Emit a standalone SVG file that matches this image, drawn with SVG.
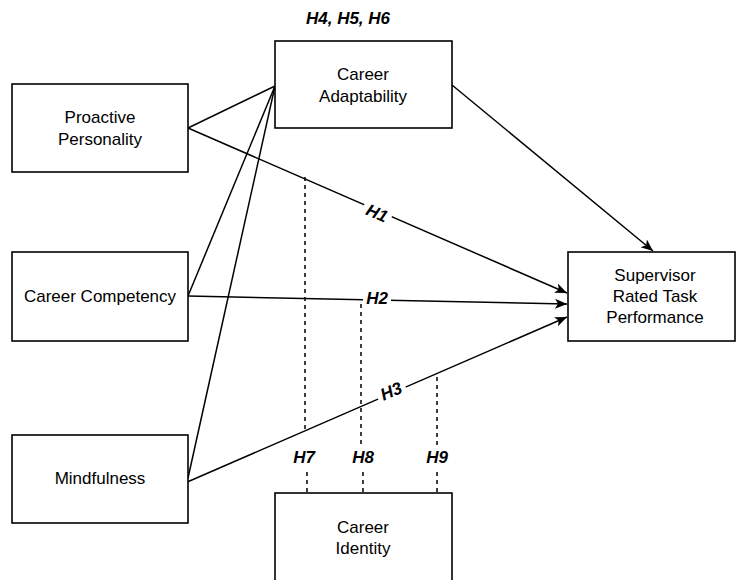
<svg xmlns="http://www.w3.org/2000/svg" width="736" height="580" viewBox="0 0 736 580">
<defs>
<style>
.box{fill:#fff;stroke:#000;stroke-width:1.6}
.lbl{font-family:"Liberation Sans",Arial,sans-serif;font-size:17px;fill:#000;text-anchor:middle}
.h{font-family:"Liberation Sans",Arial,sans-serif;font-size:17px;font-weight:bold;font-style:italic;fill:#000;text-anchor:middle}
.ln{stroke:#000;stroke-width:1.5;fill:none}
.dash{stroke:#000;stroke-width:1.5;fill:none;stroke-dasharray:4 4}
</style>
<marker id="arr" markerWidth="14" markerHeight="12" refX="12" refY="5" orient="auto" markerUnits="userSpaceOnUse">
<path d="M0,0 L12,5 L0,10 L3,5 Z" fill="#000"/>
</marker>
</defs>
<rect width="736" height="580" fill="#fff"/>
<g id="connectors">
<line class="ln" x1="188" y1="128" x2="275" y2="86"/>
<line class="ln" x1="188" y1="296" x2="275" y2="86"/>
<line class="ln" x1="188" y1="478" x2="275" y2="86"/>
<line class="ln" x1="452" y1="85" x2="653" y2="251" marker-end="url(#arr)"/>
<line class="ln" x1="188" y1="128" x2="567" y2="293" marker-end="url(#arr)"/>
<line class="ln" x1="188" y1="296" x2="567" y2="304" marker-end="url(#arr)"/>
<line class="ln" x1="185" y1="483" x2="567" y2="317" marker-end="url(#arr)"/>
<line class="dash" x1="305" y1="177" x2="305" y2="432"/>
<line class="dash" x1="307" y1="472" x2="307" y2="493"/>
<line class="dash" x1="361" y1="304" x2="361" y2="447"/>
<line class="dash" x1="363" y1="472" x2="363" y2="493"/>
<line class="dash" x1="437" y1="377" x2="437" y2="447"/>
<line class="dash" x1="437" y1="472" x2="437" y2="493"/>
<g transform="translate(377,213) rotate(23.5)">
<rect x="-15" y="-10" width="30" height="20" fill="#fff"/>
<text class="h" x="0" y="6">H1</text>
</g>
<rect x="363" y="288" width="28" height="20" fill="#fff"/>
<text class="h" x="377" y="304">H2</text>
<g transform="translate(391,391) rotate(-23.5)">
<rect x="-15" y="-10" width="30" height="20" fill="#fff"/>
<text class="h" x="0" y="6">H3</text>
</g>
<text class="h" x="304" y="463">H7</text>
<text class="h" x="363" y="463">H8</text>
<text class="h" x="437" y="463">H9</text>
<text class="h" x="348" y="24">H4, H5, H6</text>
</g>
<g id="proactive">
<rect class="box" x="12" y="84" width="176" height="88"/>
<text class="lbl" x="100" y="123">Proactive</text>
<text class="lbl" x="100" y="145">Personality</text>
</g>
<g id="adaptability">
<rect class="box" x="275" y="41" width="177" height="87"/>
<text class="lbl" x="363" y="80">Career</text>
<text class="lbl" x="363" y="102">Adaptability</text>
</g>
<g id="competency">
<rect class="box" x="12" y="252" width="176" height="89"/>
<text class="lbl" x="100" y="302">Career Competency</text>
</g>
<g id="mindfulness">
<rect class="box" x="12" y="435" width="176" height="88"/>
<text class="lbl" x="100" y="484">Mindfulness</text>
</g>
<g id="performance">
<rect class="box" x="568" y="252" width="167" height="89"/>
<text class="lbl" x="655" y="281">Supervisor</text>
<text class="lbl" x="655" y="302">Rated Task</text>
<text class="lbl" x="655" y="323">Performance</text>
</g>
<g id="identity">
<rect class="box" x="275" y="493" width="177" height="100"/>
<text class="lbl" x="363" y="533">Career</text>
<text class="lbl" x="363" y="554">Identity</text>
</g>
</svg>
